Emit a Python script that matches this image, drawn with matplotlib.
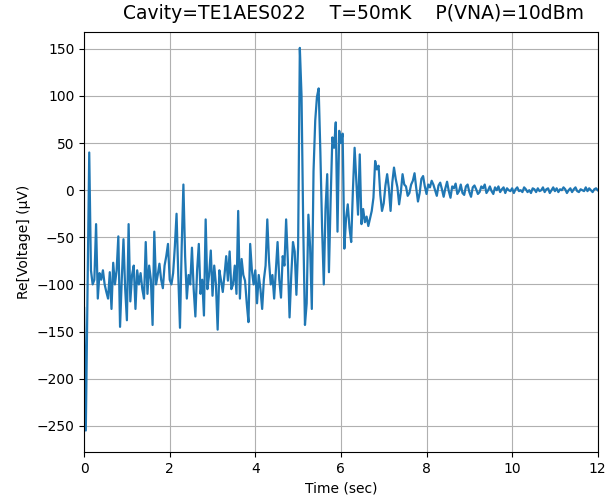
import numpy as np
import matplotlib.pyplot as plt

v_0 = [-125, -255, -110, 40, -85, -100, -95, -36, -115, -88, -95, -85, -100,
       -108, -115, -87, -126, -77, -100, -85, -49, -145, -95, -52, -105]
v_1 = [-138, -36, -118, -90, -80, -126, -85, -100, -88, -105, -115, -55, -110,
       -80, -95, -143, -44, -100, -90, -78, -95, -104, -80, -70, -57]
v_2 = [-95, -100, -88, -60, -25, -90, -146, -60, 6, -70, -115, -90, -100,
       -61, -105, -134, -85, -57, -110, -95, -133, -31, -105, -90, -64]
v_3 = [-112, -80, -100, -148, -85, -96, -108, -90, -70, -96, -65, -105, -100,
       -80, -110, -22, -115, -73, -90, -96, -120, -140, -57, -85, -100]
v_4 = [-85, -120, -90, -105, -126, -95, -80, -31, -75, -100, -90, -115, -85,
       -55, -95, -114, -70, -80, -31, -75, -135, -90, -55, -65, -111]
v_5 = [-60, 151, 100, -40, -143, -120, -26, -60, -126, 20, 74, 99, 108,
       40, -40, -100, -20, 17, -87, -10, 56, 45, 72, -44, 63]
v_6 = [50, 60, -62, -30, -15, -40, -55, 0, 45, 10, -26, 38, -36,
       -20, -34, -28, -38, -30, -22, -8, 31, 22, 26, -5, -22]
v_7 = [-14, 5, 17, 2, -22, 8, 24, 12, 3, -15, -2, 17, 6,
       4, -6, -3, 6, 10, 18, 2, -12, -3, 12, 15, 4]
v_8 = [-4, 6, 3, 10, 6, 0, -6, 5, 8, 1, -7, 2, 9,
       -1, -8, 4, 2, 7, -4, -1, 6, -3, -5, 4, 6]
v_9 = [-2, -7, 3, 5, 1, -4, -2, 4, 2, 6, -3, 0, 4,
       -1, -4, 3, 0, 4, -2, 1, 3, -3, 2, 0, -1]
v_10 = [2, -3, 1, 3, -1, 0, -2, 3, 1, -2, 0, -3, 2,
        1, -2, 2, -1, 0, 3, -2, 1, 2, -3, 0, 3]
v_11 = [-1, 2, -2, 1, 0, 3, 1, -3, 0, 2, -2, 1, 3,
        -1, -2, 1, 0, -1, 3, -1, 2, 0, -2, 1, 2, 0]

voltage = v_0 + v_1 + v_2 + v_3 + v_4 + v_5 + v_6 + v_7 + v_8 + v_9 + v_10 + v_11
time = np.linspace(0, 12, len(voltage))

fig = plt.figure(figsize=(6.05, 4.98), dpi=100)
ax = fig.add_axes([0.139, 0.092, 0.849, 0.844])
ax.plot(time, voltage, linewidth=1.6)

ax.set_xlim(0, 12)
ax.set_ylim(-278, 168)
ax.grid(True)
ax.set_title('Cavity=TE1AES022    T=50mK    P(VNA)=10dBm', fontsize=13.5,
             x=0.525, pad=9)
ax.set_xlabel('Time (sec)')
ax.set_ylabel('Re[Voltage] (μV)')

plt.savefig('out.png')
